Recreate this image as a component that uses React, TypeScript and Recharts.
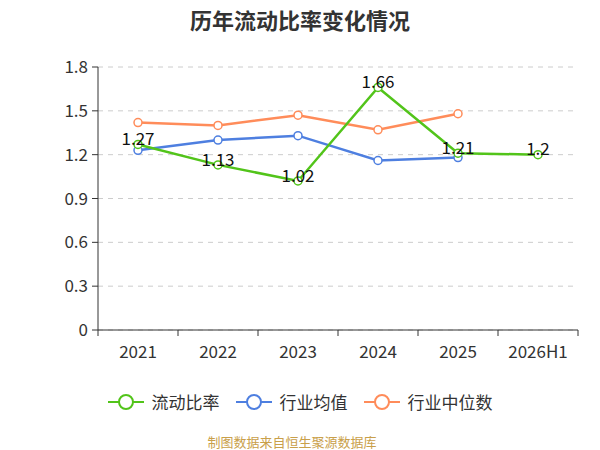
import React from 'react'
import {
  LineChart, Line, XAxis, YAxis, CartesianGrid, LabelList,
} from 'recharts'

const years = ['2021', '2022', '2023', '2024', '2025', '2026H1']
const liudong = [1.27, 1.13, 1.02, 1.66, 1.21, 1.2]
const junzhi = [1.23, 1.30, 1.33, 1.16, 1.18, null]
const zhongwei = [1.42, 1.40, 1.47, 1.37, 1.48, null]
const yTicks = [0, 0.3, 0.6, 0.9, 1.2, 1.5, 1.8]
const boundaries = [0, 1, 2, 3, 4, 5, 6]

const SERIES = [
  { key: 'liudong', name: '流动比率', color: '#52c41a' },
  { key: 'junzhi', name: '行业均值', color: '#4e7fe0' },
  { key: 'zhongwei', name: '行业中位数', color: '#ff8c5a' },
]

const rows = years.map((y, i) => ({
  year: y,
  idx: i + 0.5,
  liudong: liudong[i],
  junzhi: junzhi[i],
  zhongwei: zhongwei[i],
}))

const FONT = '"Noto Sans CJK SC", "Noto Sans", sans-serif'

function LegendBox() {
  return (
    <div style={{ display: 'flex', justifyContent: 'center', gap: 16, fontFamily: FONT, fontSize: 17, color: '#333' }}>
      {SERIES.map(s => (
        <div key={s.key} style={{ display: 'flex', alignItems: 'center', gap: 8 }}>
          <svg width={36} height={18}>
            <line x1={0} y1={9} x2={36} y2={9} stroke={s.color} strokeWidth={2} />
            <circle cx={18} cy={9} r={7} fill="#fff" stroke={s.color} strokeWidth={2} />
          </svg>
          <span>{s.name}</span>
        </div>
      ))}
    </div>
  )
}

// eslint-disable-next-line @typescript-eslint/no-explicit-any
function ValueLabel(props: any) {
  const { x, y, value } = props
  if (value == null) return null
  return (
    <text x={x} y={y} dy={-4} textAnchor="middle" dominantBaseline="middle"
      fontSize={17} fill="#111" fontFamily={FONT}>
      {value}
    </text>
  )
}

export default function App() {
  return (
    <div style={{ position: 'absolute', left: 0, top: 0, width: 600, height: 450, background: '#fff', fontFamily: FONT }}>
      <div style={{ position: 'absolute', top: 3, width: 600, textAlign: 'center', fontSize: 22, fontWeight: 700, color: '#333' }}>
        历年流动比率变化情况
      </div>
      <LineChart width={600} height={450} data={rows}
        margin={{ top: 67, right: 22, left: 48, bottom: 90 }}>
        <CartesianGrid stroke="#ccc" strokeDasharray="5 5" vertical={false} />
        <XAxis xAxisId="bnd" type="number" dataKey="idx" domain={[0, 6]} ticks={boundaries}
          tickFormatter={() => ''} height={1} axisLine={{ stroke: '#333' }}
          tickLine={{ stroke: '#333' }} tickSize={6} />
        <XAxis dataKey="year" xAxisId="cat" scale="band" axisLine={false} tickLine={false}
          tick={{ fontSize: 17, fill: '#333', fontFamily: FONT }} height={29} tickMargin={9} />
        <YAxis domain={[0, 1.8]} ticks={yTicks} width={50} axisLine={{ stroke: '#333' }}
          tickLine={{ stroke: '#333' }} tickSize={6} tickMargin={4}
          tick={{ fontSize: 17, fill: '#333', fontFamily: FONT }} />
        <Line xAxisId="cat" type="linear" dataKey="junzhi" name="行业均值" stroke="#4e7fe0" strokeWidth={2.5}
          dot={{ r: 4, fill: '#fff', stroke: '#4e7fe0', strokeWidth: 1.5 }} isAnimationActive={false} />
        <Line xAxisId="cat" type="linear" dataKey="zhongwei" name="行业中位数" stroke="#ff8c5a" strokeWidth={2.5}
          dot={{ r: 4, fill: '#fff', stroke: '#ff8c5a', strokeWidth: 1.5 }} isAnimationActive={false} />
        <Line xAxisId="cat" type="linear" dataKey="liudong" name="流动比率" stroke="#52c41a" strokeWidth={2.5}
          dot={{ r: 4, fill: '#fff', stroke: '#52c41a', strokeWidth: 1.5 }} isAnimationActive={false}>
          <LabelList dataKey="liudong" content={<ValueLabel />} />
        </Line>
      </LineChart>
      <div style={{ position: 'absolute', top: 389, width: 600 }}>
        <LegendBox />
      </div>
      <div style={{ position: 'absolute', top: 434, left: 0, width: 584, textAlign: 'center', fontSize: 13, lineHeight: '15px', color: '#c9a04a' }}>
        制图数据来自恒生聚源数据库
      </div>
    </div>
  )
}
